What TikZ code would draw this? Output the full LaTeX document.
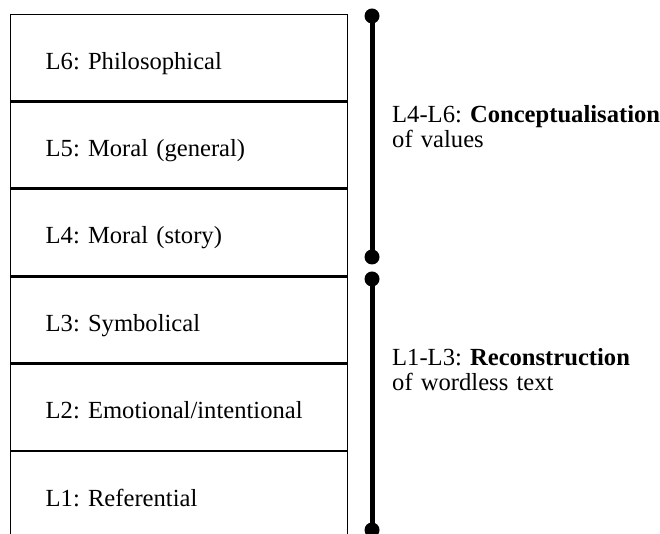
\documentclass[tikz,border=0pt]{standalone}
\usepackage{fontspec}
\setmainfont{Liberation Serif}
\usetikzlibrary{positioning}

\begin{document}
\frenchspacing
\begin{tikzpicture}[x=1pt, y=1pt,
    level/.style={rectangle, draw=black, line width=1.4pt, minimum width=337pt, minimum height=86pt, inner xsep=35pt, inner ysep=0pt, text width=267pt, align=left, text height=23pt, text depth=0pt},
    bar/.style={line width=5pt},
    dot/.style={circle, fill=black, inner sep=0pt, minimum size=15pt}]
    \useasboundingbox (0,0) rectangle (660,534);
    \fontsize{24.6}{25}\selectfont

    % stacked levels
    \node [level, anchor=north west] (lsix) at (10,520) {L6: Philosophical};
    \node [level, below=0pt of lsix] (lfive) {L5: Moral (general)};
    \node [level, below=0pt of lfive] (lfour) {L4: Moral (story)};
    \node [level, below=0pt of lfour] (lthree) {L3: Symbolical};
    \node [level, below=0pt of lthree] (ltwo) {L2: Emotional/intentional};
    \node [level, below=0pt of ltwo] (lone) {L1: Referential};

    % bracket bars
    \coordinate (barTop) at (372,518);
    \coordinate (barMidA) at (372,277);
    \coordinate (barMidB) at (372,255);
    \coordinate (barBot) at (372,4);
    \draw [bar] (barTop) -- (barMidA);
    \draw [bar] (barMidB) -- (barBot);
    \foreach \c in {barTop, barMidA, barMidB, barBot}
        \node [dot] at (\c) {};

    % group labels
    \node [anchor=base west, text width=300pt, align=left, inner sep=0pt] (conceptLabel) at (392,411) {L4-L6: \textbf{Conceptualisation}\\of values};
    \node [anchor=base west, text width=300pt, align=left, inner sep=0pt] (reconLabel) at (392,168) {L1-L3: \textbf{Reconstruction}\\of wordless text};
\end{tikzpicture}
\end{document}
